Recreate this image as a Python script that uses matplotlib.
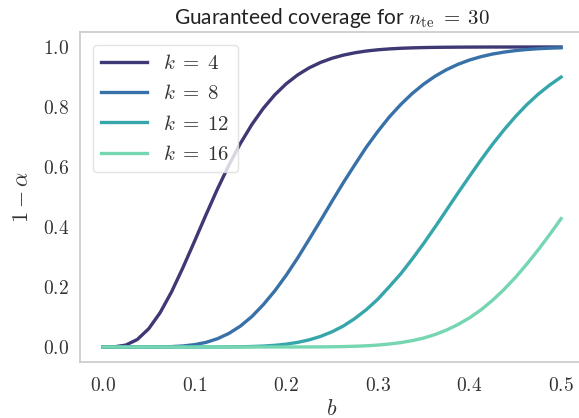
import numpy as np
import matplotlib
matplotlib.use('Agg')
import matplotlib.pyplot as plt
from matplotlib.ticker import FormatStrFormatter

plt.rcParams['mathtext.fontset'] = 'cm'
plt.rcParams['font.family'] = ['Lato', 'DejaVu Sans']

# values (b = 0 .. 0.5, step 0.0125)
b = [0.0, 0.0125, 0.025, 0.0375, 0.05, 0.0625, 0.075, 0.0875, 0.1, 0.1125,
     0.125, 0.1375, 0.15, 0.1625, 0.175, 0.1875, 0.2, 0.2125, 0.225, 0.2375,
     0.25, 0.2625, 0.275, 0.2875, 0.3, 0.3125, 0.325, 0.3375, 0.35, 0.3625,
     0.375, 0.3875, 0.4, 0.4125, 0.425, 0.4375, 0.45, 0.4625, 0.475, 0.4875, 0.5]
k4 = [0.0, 0.0005, 0.0064, 0.0249, 0.0609, 0.1147, 0.1844, 0.2658, 0.3526, 0.4409,
      0.5267, 0.6063, 0.6783, 0.7414, 0.7954, 0.8404, 0.8773, 0.9069, 0.9304, 0.9486,
      0.9625, 0.9730, 0.9808, 0.9866, 0.9907, 0.9936, 0.9957, 0.9971, 0.9981, 0.9988,
      0.9992, 0.9995, 0.9997, 0.9998, 0.9999, 0.9999, 1.0, 1.0, 1.0, 1.0, 1.0]
k8 = [0.0, 0.0, 0.0, 0.0, 0.0001, 0.0004, 0.0013, 0.0035, 0.0078, 0.0154,
      0.0275, 0.0453, 0.0696, 0.1014, 0.1410, 0.1868, 0.2391, 0.2967, 0.3586, 0.4215,
      0.4857, 0.5485, 0.6081, 0.6664, 0.7186, 0.7666, 0.8082, 0.8449, 0.8762, 0.9026,
      0.9245, 0.9423, 0.9565, 0.9677, 0.9764, 0.9829, 0.9879, 0.9916, 0.9943, 0.9961, 0.9974]
k12 = [0.0, 0.0, 0.0, 0.0, 0.0, 0.0, 0.0, 0.0, 0.0, 0.0,
       0.0001, 0.0004, 0.0008, 0.0016, 0.0031, 0.0056, 0.0095, 0.0154, 0.0237, 0.0353,
       0.0507, 0.0702, 0.0951, 0.1246, 0.1593, 0.2010, 0.2439, 0.2931, 0.3450, 0.3999,
       0.4566, 0.5135, 0.5689, 0.6233, 0.6751, 0.7230, 0.7675, 0.8075, 0.8426, 0.8731, 0.8998]
k16 = [0.0, 0.0, 0.0, 0.0, 0.0, 0.0, 0.0, 0.0, 0.0, 0.0,
       0.0, 0.0, 0.0, 0.0, 0.0, 0.0, 0.0001, 0.0001, 0.0002, 0.0004,
       0.0008, 0.0014, 0.0025, 0.0040, 0.0064, 0.0100, 0.0146, 0.0212, 0.0298, 0.0415,
       0.0564, 0.0750, 0.0971, 0.1236, 0.1552, 0.1911, 0.2315, 0.2760, 0.3238, 0.3746, 0.4278]
ks = [4, 8, 12, 16]
curves = [k4, k8, k12, k16]
colors = ['#3e3874', '#3871a8', '#36a6ab', '#76d6b1']

fig = plt.figure(figsize=(5.79, 4.18), dpi=100)
ax = fig.add_axes([80/579, (418-362)/418, 504/579, 330/418])

for k, y, c in zip(ks, curves, colors):
    ax.plot(b, y, color=c, lw=2.4, label=r'$k \;=\; %d$' % k)

ax.set_xlim(-0.025, 0.525)
ax.set_ylim(-0.05, 1.05)
ax.set_xticks([0.0, 0.1, 0.2, 0.3, 0.4, 0.5])
ax.set_yticks([0.0, 0.2, 0.4, 0.6, 0.8, 1.0])
ax.xaxis.set_major_formatter(FormatStrFormatter('$%.1f$'))
ax.yaxis.set_major_formatter(FormatStrFormatter('$%.1f$'))
ax.tick_params(length=0, labelsize=14, colors='#333333', pad=8)
ax.tick_params(axis='x', pad=10)
for s in ax.spines.values():
    s.set_color('#cccccc')
    s.set_linewidth(1.25)

ax.set_xlabel('$b$', fontsize=16, color='#333333', labelpad=4)
ax.set_ylabel(r'$1 - \alpha$', fontsize=16, color='#333333', labelpad=8)
ax.set_title(r'Guaranteed coverage for $n_{\mathrm{te}} \;=\; 30$', fontsize=15, color='#222222', pad=6)

leg = ax.legend(loc='upper left', fontsize=15, handlelength=2.2, framealpha=0.8,
                edgecolor='#dddddd', borderaxespad=0.6)
for t in leg.get_texts():
    t.set_color('#333333')

fig.savefig('out.png', dpi=100)
